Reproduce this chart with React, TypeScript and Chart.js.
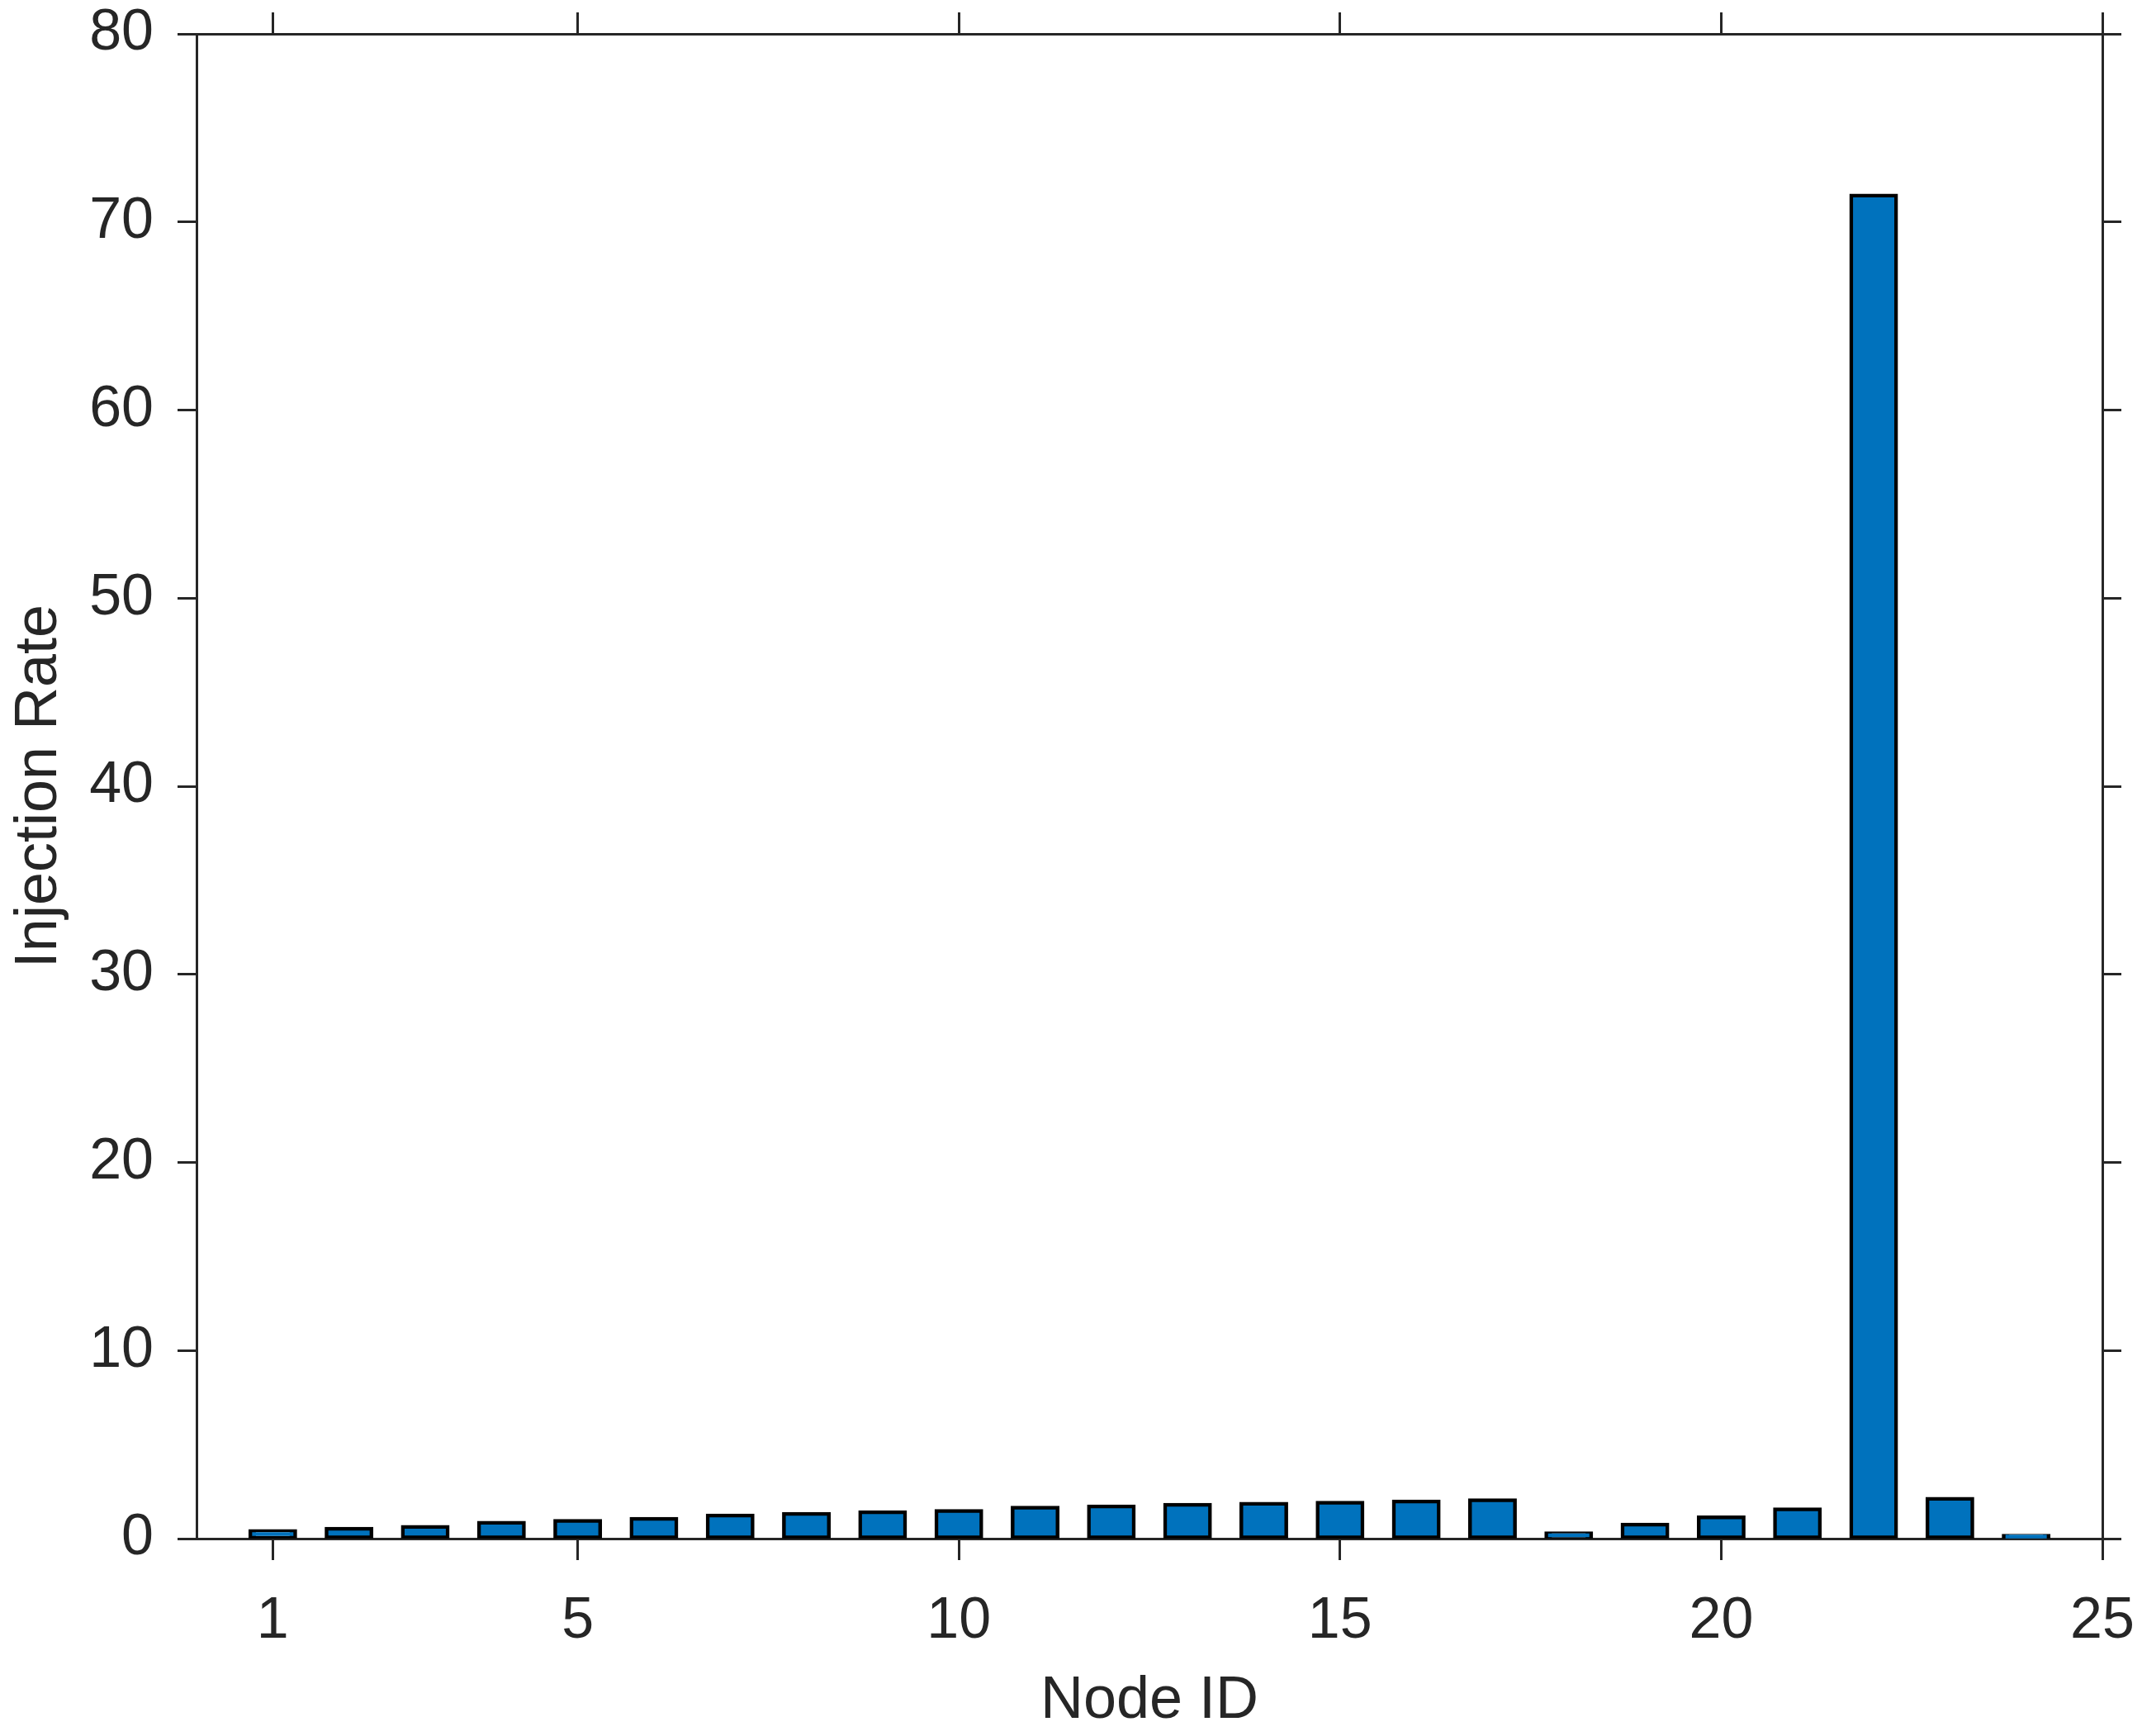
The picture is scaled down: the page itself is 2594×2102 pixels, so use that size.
import React, { useEffect, useRef } from "react";
import { Chart, registerables } from "chart.js";

Chart.register(...registerables);

// ---- data ----
const nodeIds = [1, 2, 3, 4, 5, 6, 7, 8, 9, 10, 11, 12, 13, 14, 15, 16, 17, 18, 19, 20, 21, 22, 23, 24];
const injectionRates = [
  0.41, 0.53, 0.63, 0.85, 0.94, 1.05, 1.23, 1.32, 1.4, 1.47, 1.65, 1.71,
  1.8, 1.86, 1.91, 1.98, 2.04, 0.28, 0.75, 1.13, 1.56, 71.4, 2.12, 0.15,
];
const xTicks = [1, 5, 10, 15, 20, 25];
const yTicks = [0, 10, 20, 30, 40, 50, 60, 70, 80];
const xLabel = "Node ID";
const yLabel = "Injection Rate";

// ---- layout / style ----
const W = 2594;
const H = 2102;
const AREA = { left: 238, right: 2546, top: 41, bottom: 1863 };
const AXIS = "#262626";
const FAMILY = "'Liberation Sans', Arial, Helvetica, sans-serif";
const tickFont = { family: FAMILY, size: 70 };
const titleFont = { family: FAMILY, size: 72, lineHeight: 1 };

const zeroPad = (s: any) => {
  s.paddingTop = 0;
  s.paddingBottom = 0;
  s.paddingLeft = 0;
  s.paddingRight = 0;
};

export default function App() {
  const ref = useRef<HTMLCanvasElement | null>(null);

  useEffect(() => {
    if (!ref.current) return;
    const setTicks = (vals: number[]) => (s: any) => {
      s.ticks = vals.map((v) => ({ value: v }));
    };
    const chart = new Chart(ref.current, {
      type: "bar",
      data: {
        datasets: [
          {
            data: nodeIds.map((x, i) => ({ x, y: injectionRates[i] })),
            backgroundColor: "#0072BD",
            borderColor: "#000000",
            borderWidth: 4.5,
            inflateAmount: 2.25,
            borderSkipped: false,
            barPercentage: 0.59,
            categoryPercentage: 1,
            xAxisID: "x",
            yAxisID: "y",
          } as any,
        ],
      },
      options: {
        responsive: false,
        maintainAspectRatio: false,
        animation: false,
        devicePixelRatio: 1,
        layout: { padding: 0 },
        plugins: { legend: { display: false }, tooltip: { enabled: false } },
        scales: {
          x: {
            type: "linear",
            position: "bottom",
            min: 0,
            max: 25,
            offset: false,
            afterBuildTicks: setTicks(xTicks),
            afterFit: (s: any) => {
              s.height = H - AREA.bottom;
              zeroPad(s);
            },
            grid: { offset: false, drawOnChartArea: false, drawTicks: true, tickLength: 26, color: AXIS, lineWidth: 3 },
            border: { display: true, color: AXIS, width: 3 },
            ticks: { autoSkip: false, maxRotation: 0, padding: 33, color: AXIS, font: tickFont, callback: (v: any) => String(v) },
            title: { display: true, text: xLabel, color: AXIS, font: titleFont, padding: { top: 0, bottom: 6 } },
          },
          x2: {
            type: "linear",
            position: "top",
            min: 0,
            max: 25,
            offset: false,
            afterBuildTicks: setTicks(xTicks),
            afterFit: (s: any) => {
              s.height = AREA.top;
              zeroPad(s);
            },
            grid: { offset: false, drawOnChartArea: false, drawTicks: true, tickLength: 26, color: AXIS, lineWidth: 3 },
            border: { display: true, color: AXIS, width: 3 },
            ticks: { display: false, autoSkip: false },
          },
          y: {
            type: "linear",
            position: "left",
            min: 0,
            max: 80,
            afterBuildTicks: setTicks(yTicks),
            afterFit: (s: any) => {
              s.width = AREA.left;
              zeroPad(s);
            },
            grid: { drawOnChartArea: false, drawTicks: true, tickLength: 23, color: AXIS, lineWidth: 3 },
            border: { display: true, color: AXIS, width: 3 },
            ticks: { autoSkip: false, padding: 29, color: AXIS, font: tickFont, callback: (v: any) => String(v) },
            title: { display: true, text: yLabel, color: AXIS, font: titleFont, padding: { top: 12, bottom: 0 } },
          },
          y2: {
            type: "linear",
            position: "right",
            min: 0,
            max: 80,
            afterBuildTicks: setTicks(yTicks),
            afterFit: (s: any) => {
              s.width = W - AREA.right;
              zeroPad(s);
            },
            grid: { drawOnChartArea: false, drawTicks: true, tickLength: 23, color: AXIS, lineWidth: 3 },
            border: { display: true, color: AXIS, width: 3 },
            ticks: { display: false, autoSkip: false },
          },
        },
      } as any,
    });
    return () => chart.destroy();
  }, []);

  return (
    <div style={{ position: "fixed", left: 0, top: 0, width: W, height: H, background: "#ffffff" }}>
      <canvas ref={ref} width={W} height={H} style={{ display: "block", width: W, height: H }} />
    </div>
  );
}
